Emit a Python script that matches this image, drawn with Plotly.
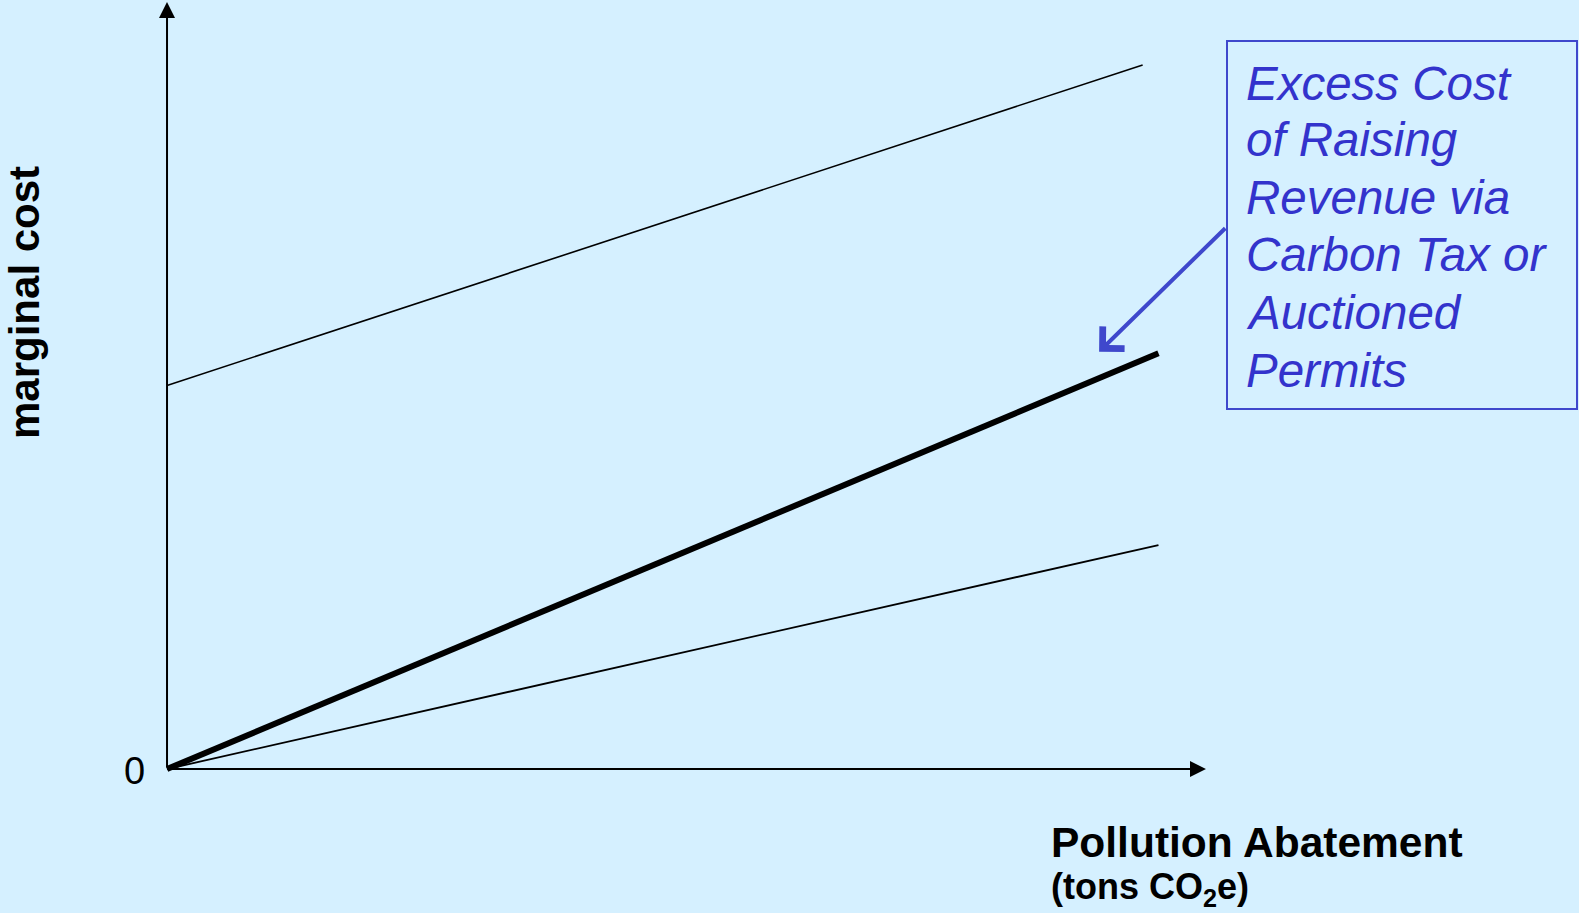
import plotly.graph_objects as go

# ---- data (abstract units: abatement on x, marginal cost on y) ----
upper_x = [0, 9.86]
upper_y = [5.0, 9.18]
thick_x = [0, 10.02]
thick_y = [0, 5.42]
lower_x = [0, 10.02]
lower_y = [0, 2.92]

x_axis_end = 10.5
y_axis_end = 10.0

box_lines = ["Excess Cost", "of Raising", "Revenue via", "Carbon Tax or", "Auctioned", "Permits"]
arrow_head = (9.42, 5.44)
arrow_tail = (10.71, 7.07)

BG = "#D5F0FF"
BLUE_TXT = "#3333CC"
BLUE_LINE = "#3F48CC"
FONT = "Liberation Sans, Arial, sans-serif"

fig = go.Figure()
fig.add_trace(go.Scatter(x=upper_x, y=upper_y, mode="lines",
                         line=dict(color="black", width=1.6), showlegend=False, hoverinfo="skip"))
fig.add_trace(go.Scatter(x=lower_x, y=lower_y, mode="lines",
                         line=dict(color="black", width=1.8), showlegend=False, hoverinfo="skip"))
fig.add_trace(go.Scatter(x=thick_x, y=thick_y, mode="lines",
                         line=dict(color="black", width=6), showlegend=False, hoverinfo="skip"))

ann = []
# axes with arrowheads
ann.append(dict(x=0, y=y_axis_end, ax=0, ay=0, xref="x", yref="y", axref="x", ayref="y",
                showarrow=True, arrowhead=2, arrowsize=1.6, arrowwidth=2, arrowcolor="black", text=""))
ann.append(dict(x=x_axis_end, y=0, ax=0, ay=0, xref="x", yref="y", axref="x", ayref="y",
                showarrow=True, arrowhead=2, arrowsize=1.6, arrowwidth=2, arrowcolor="black", text=""))
# zero label
ann.append(dict(x=0, y=0, xref="x", yref="y", text="0", showarrow=False, xanchor="right",
                yanchor="middle", xshift=-20, yshift=-2, font=dict(family=FONT, size=38, color="black")))
# blue arrow
ann.append(dict(x=arrow_head[0], y=arrow_head[1], ax=arrow_tail[0], ay=arrow_tail[1],
                xref="x", yref="y", axref="x", ayref="y", showarrow=True, arrowhead=4,
                arrowsize=1.5, arrowwidth=4, arrowcolor=BLUE_LINE, text=""))
# box text lines
line_centers_px = [83, 140, 197, 255, 312, 370]
for t, cy in zip(box_lines, line_centers_px):
    ann.append(dict(x=1244 / 1579, y=1 - cy / 913, xref="paper", yref="paper", text=t,
                    showarrow=False, xanchor="left", yanchor="middle",
                    font=dict(family=FONT, size=47.5, color=BLUE_TXT, style="italic")))
# axis titles
ann.append(dict(x=24 / 1579, y=1 - 303 / 913, xref="paper", yref="paper", text="<b>marginal cost</b>",
                textangle=-90, showarrow=False, xanchor="center", yanchor="middle",
                font=dict(family=FONT, size=42, color="black")))
ann.append(dict(x=1049 / 1579, y=1 - 842 / 913, xref="paper", yref="paper", text="<b>Pollution Abatement</b>",
                showarrow=False, xanchor="left", yanchor="middle",
                font=dict(family=FONT, size=42.5, color="black")))
ann.append(dict(x=1049 / 1579, y=1 - 889 / 913, xref="paper", yref="paper", text="<b>(tons CO<sub>2</sub>e)</b>",
                showarrow=False, xanchor="left", yanchor="middle",
                font=dict(family=FONT, size=36, color="black")))

shapes = [dict(type="rect", xref="paper", yref="paper", x0=1227 / 1579, x1=1577 / 1579,
               y0=1 - 409 / 913, y1=1 - 41 / 913, line=dict(color=BLUE_LINE, width=2))]

fig.update_layout(
    width=1579, height=913, margin=dict(l=0, r=0, t=0, b=0),
    paper_bgcolor=BG, plot_bgcolor=BG,
    xaxis=dict(range=[-1.688, 14.27], visible=False, fixedrange=True),
    yaxis=dict(range=[-1.877, 10.026], visible=False, fixedrange=True),
    annotations=ann, shapes=shapes, showlegend=False,
)

fig.write_html("out.html", config={"displayModeBar": False},
               post_script="document.body.style.margin='0';document.body.style.overflow='hidden';")
